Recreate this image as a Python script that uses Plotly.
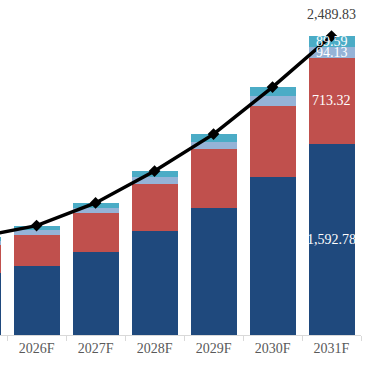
import plotly.graph_objects as go

years = ["2025F", "2026F", "2027F", "2028F", "2029F", "2030F", "2031F"]
seg_blue = [516, 575, 691, 866, 1057, 1316, 1592.78]
seg_red = [233, 261, 325, 391, 491, 591, 713.32]
seg_lightblue = [35, 42, 42, 58, 61, 83, 94.13]
seg_teal = [30, 33, 42, 50, 64, 75, 89.59]
totals = [814, 911, 1100, 1365, 1673, 2065, 2489.83]

colors = ["#1F497D", "#C0504D", "#95B3D7", "#4BACC6"]
series = [seg_blue, seg_red, seg_lightblue, seg_teal]

fig = go.Figure()
for vals, col in zip(series, colors):
    fig.add_trace(go.Bar(x=years, y=vals, marker=dict(color=col, line=dict(width=0)),
                         hoverinfo="skip"))

fig.add_trace(go.Scatter(x=years, y=totals, mode="lines+markers",
                         line=dict(color="black", width=3.5),
                         marker=dict(symbol="diamond", size=9, color="black"),
                         hoverinfo="skip"))

# labels for the last year
last = len(years) - 1
font_in = dict(family="Liberation Serif, Times New Roman, serif", size=14, color="white")
cum = 0
for vals in series:
    v = vals[last]
    fig.add_annotation(x=years[last], y=cum + v / 2, text=f"{v:,.2f}", showarrow=False,
                       font=font_in)
    cum += v
fig.add_annotation(x=years[last], y=totals[last], text=f"{totals[last]:,.2f}", showarrow=False,
                   yshift=22, font=dict(family="Liberation Serif, Times New Roman, serif",
                                        size=14, color="#404040"))

fig.update_layout(
    barmode="stack", bargap=0.22, showlegend=False,
    width=376, height=376, margin=dict(l=0, r=15, t=0, b=41),
    paper_bgcolor="white", plot_bgcolor="white",
    xaxis=dict(range=[0.38, 6.5], showline=True, linecolor="#D9D9D9", linewidth=1,
               ticks="outside", tickson="boundaries", ticklen=5, tickcolor="#D9D9D9",
               tickfont=dict(family="Liberation Serif, Times New Roman, serif", size=14,
                             color="#595959"), showgrid=False, fixedrange=True),
    yaxis=dict(range=[0, 2790], visible=False, showgrid=False, zeroline=False),
)

fig.write_html("out.html", config={"displayModeBar": False},
               post_script="document.body.style.margin='0';")
